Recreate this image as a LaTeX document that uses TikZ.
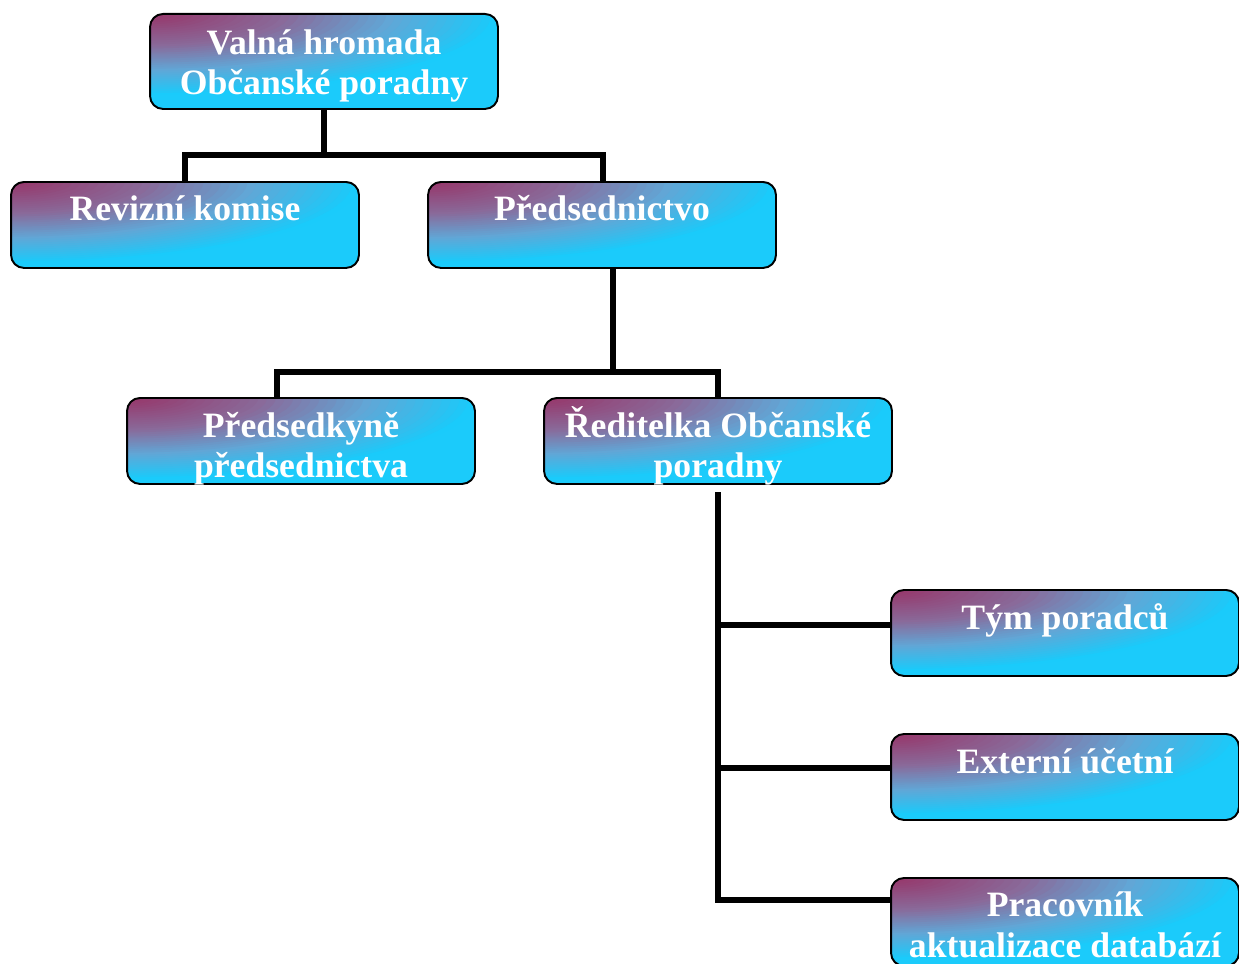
\documentclass[tikz,border=0pt]{standalone}
\usepackage{fontspec}
\setmainfont{Liberation Serif}
\definecolor{boxcyan}{HTML}{1BCBFB}
\tikzset{
  orgbox/.style={draw=black, line width=1.1pt, rounded corners=0.26cm,
    inner sep=0pt, minimum width=6.96cm, minimum height=1.72cm, anchor=north,
    path picture={
      \fill[boxcyan] (path picture bounding box.south west) rectangle (path picture bounding box.north east);
      \foreach \ii in {40,39,...,1}{
        \pgfmathsetmacro\dd{\ii/40}
        \pgfmathtruncatemacro\cR{\dd<0.4 ? (152+(138-152)*\dd/0.4) : (\dd<0.7 ? (138+(98-138)*(\dd-0.4)/0.3) : (98+(27-98)*(\dd-0.7)/0.3))}
        \pgfmathtruncatemacro\cG{\dd<0.4 ? (52+(106-52)*\dd/0.4) : (\dd<0.7 ? (106+(166-106)*(\dd-0.4)/0.3) : (166+(203-166)*(\dd-0.7)/0.3))}
        \pgfmathtruncatemacro\cB{\dd<0.4 ? (104+(154-104)*\dd/0.4) : (\dd<0.7 ? (154+(214-154)*(\dd-0.4)/0.3) : (214+(251-214)*(\dd-0.7)/0.3))}
        \definecolor{fadecol}{RGB}{\cR,\cG,\cB}
        \fill[fadecol, sharp corners]
          (path picture bounding box.north west) ellipse [x radius=\dd*7.0cm, y radius=\dd*1.62cm];
      }
    }},
  boxtext/.style={text=white, font=\fontsize{20.3pt}{23.3pt}\selectfont\bfseries,
    align=center, inner sep=0pt, anchor=base},
  conn/.style={line width=3.4pt, line cap=butt, line join=miter}
}
% #1 name, #2 cx, #3 top, #4 height, #5 baseline offset of last line (cm), #6 text
\newcommand{\orgnode}[6]{%
  \node[orgbox, minimum height=#4*0.02cm] (#1) at (#2,#3) {};
  \begin{scope}
    \clip[rounded corners=0.26cm] (#1.south west) rectangle (#1.north east);
    \node[boxtext] (#1t) at ([yshift=-#5cm]#1.north) {#6};
  \end{scope}
}
\begin{document}
\begin{tikzpicture}[x=0.02cm, y=-0.02cm]
\useasboundingbox (0,0) rectangle (1239,963);
\coordinate (j1) at (324,155);
\coordinate (j2) at (613,372);
\coordinate (r0) at (718,492);
\coordinate (r1) at (718,625);
\coordinate (r2) at (718,768);
\coordinate (r3) at (718,900);
% boxes
\orgnode{valna}{324}{13}{95}{1.64}{Valná hromada\\Občanské poradny}
\orgnode{revizni}{185}{181}{86}{0.8}{Revizní komise}
\orgnode{predsed}{602}{181}{86}{0.8}{Předsednictvo}
\orgnode{predkyne}{301}{397}{86}{1.62}{Předsedkyně\\předsednictva}
\orgnode{reditelka}{718}{397}{86}{1.62}{Ředitelka Občanské\\poradny}
\orgnode{tym}{1065}{589}{86}{0.8}{Tým poradců}
\orgnode{externi}{1065}{733}{86}{0.8}{Externí účetní}
\orgnode{pracovnik}{1065}{877}{88}{1.6}{Pracovník\\aktualizace databází}
% connectors
\draw[conn] (valna.south) -- (j1);
\draw[conn] (revizni.north) |- (j1) -| ([xshift=0.02cm]predsed.north);
\draw[conn] (j2 |- predsed.south) -- (j2);
\draw[conn] ([xshift=-0.48cm]predkyne.north) |- (j2) -| (reditelka.north);
\draw[conn] (r0) |- (r3 -| pracovnik.west);
\draw[conn] (r1) -- (r1 -| tym.west);
\draw[conn] (r2) -- (r2 -| externi.west);
\end{tikzpicture}
\end{document}
